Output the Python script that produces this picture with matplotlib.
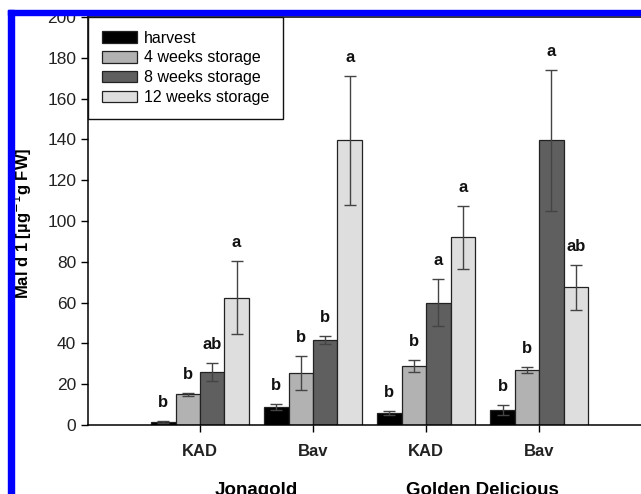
import numpy as np
import matplotlib
matplotlib.use("Agg")
import matplotlib.pyplot as plt
from matplotlib.patches import Rectangle

plt.rcParams['font.family'] = ['Liberation Sans', 'DejaVu Sans']

# data
cultivars = ['KAD', 'Bav', 'KAD', 'Bav']
groups = ['Jonagold', 'Golden Delicious']
series = ['harvest', '4 weeks storage', '8 weeks storage', '12 weeks storage']
colors = ['#000000', '#b2b2b2', '#5f5f5f', '#dedede']

harvest = [1.5, 9.0, 6.0, 7.5]
weeks4 = [15.0, 25.5, 29.0, 27.0]
weeks8 = [26.0, 41.5, 60.0, 139.5]
weeks12 = [62.5, 139.5, 92.0, 67.5]

harvest_err = [0.3, 1.5, 1.0, 2.5]
weeks4_err = [0.8, 8.5, 3.0, 1.5]
weeks8_err = [4.5, 2.0, 11.5, 34.5]
weeks12_err = [18.0, 31.5, 15.5, 11.0]

letters = [
    ['b', 'b', 'b', 'b'],      # harvest
    ['b', 'b', 'b', 'b'],      # 4 weeks
    ['ab', 'b', 'a', 'a'],     # 8 weeks
    ['a', 'a', 'a', 'ab'],     # 12 weeks
]

values = [harvest, weeks4, weeks8, weeks12]
errors = [harvest_err, weeks4_err, weeks8_err, weeks12_err]

W, H = 641, 494
fig = plt.figure(figsize=(W / 100, H / 100), dpi=100)
ax = fig.add_axes([88 / W, 1 - 425 / H, 1 - 88 / W, (425 - 17) / H])

x = np.arange(1, len(cultivars) + 1)
bw = 0.216
for i, (vals, errs, lab, col) in enumerate(zip(values, errors, series, colors)):
    pos = x + (i - 1.5) * bw
    ax.bar(pos, vals, width=bw, color=col, edgecolor='#222222', linewidth=0.9,
           label=lab, zorder=2)
    ax.errorbar(pos, vals, yerr=errs, fmt='none', ecolor='#444444',
                elinewidth=1.0, capsize=4.5, capthick=1.0, zorder=3)
    for p, v, e, t in zip(pos, vals, errs, letters[i]):
        ax.text(p, v + e + 9, t, ha='center', va='center',
                fontsize=12, fontweight='bold', color='#111111')

ax.set_xlim(0.01, 4.9)
ax.set_ylim(0, 200)
ax.set_yticks(np.arange(0, 201, 20))
ax.set_xticks(x)
ax.set_xticklabels(cultivars, fontweight='bold', fontsize=12)
ax.tick_params(axis='y', labelsize=12.5, length=5, width=1, pad=3.5,
               labelcolor='#222222')
ax.tick_params(axis='x', length=5, width=1, pad=8.5, labelcolor='#222222')
ax.spines['right'].set_visible(False)
for s in ['left', 'bottom', 'top']:
    ax.spines[s].set_linewidth(1.1)

leg = ax.legend(loc='upper left', bbox_to_anchor=(0, 1), borderaxespad=0,
                fontsize=11.5, fancybox=False, edgecolor='#111111',
                framealpha=1, handlelength=2.2, handleheight=0.75,
                handletextpad=0.45, labelspacing=0.3, borderpad=0.85)
leg.get_frame().set_linewidth(1.0)

fig.text(22 / W, 1 - 223 / H, 'Mal d 1 [µg$^{-1}$g FW]', rotation=90,
         ha='center', va='center', fontsize=12, fontweight='bold')

for gx, g in zip([1.5, 3.5], groups):
    fig.text(ax.transData.transform((gx, 0))[0] / W, 1 - 482 / H, g,
             ha='center', va='top', fontsize=13.5, fontweight='bold')

# blue frame of the original figure
fig.patches.append(Rectangle((8 / W, 1 - 15 / H), 1, 5 / H,
                             transform=fig.transFigure, color='#0000ff', zorder=10))
fig.patches.append(Rectangle((8 / W, 0), 6 / W, 1 - 10 / H,
                             transform=fig.transFigure, color='#0000ff', zorder=10))

fig.savefig('out.png', dpi=100)
